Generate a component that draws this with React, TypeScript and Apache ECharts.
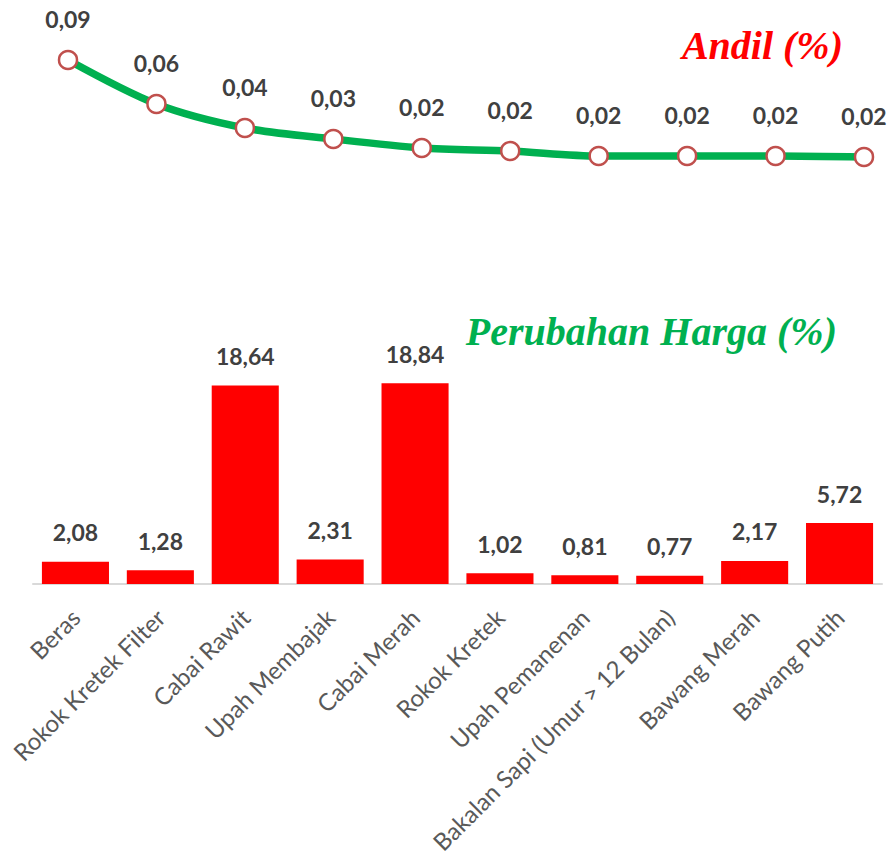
import React, { useEffect, useRef } from "react";
import * as echarts from "echarts";

const categories = [
  "Beras",
  "Rokok Kretek Filter",
  "Cabai Rawit",
  "Upah Membajak",
  "Cabai Merah",
  "Rokok Kretek",
  "Upah Pemanenan",
  "Bakalan Sapi (Umur > 12 Bulan)",
  "Bawang Merah",
  "Bawang Putih",
];
const andil = [0.0936, 0.0584, 0.0392, 0.0304, 0.0232, 0.0208, 0.0168, 0.0168, 0.0168, 0.016];
const perubahanHarga = [2.08, 1.28, 18.64, 2.31, 18.84, 1.02, 0.81, 0.77, 2.17, 5.72];
const titleAndil = "Andil (%)";
const titleHarga = "Perubahan Harga (%)";

const fmt = (v: number) => v.toFixed(2).replace(".", ",");

export default function App() {
  const ref = useRef<HTMLDivElement>(null);
  useEffect(() => {
    if (!ref.current) return;
    const chart = echarts.init(ref.current, null, { renderer: "svg" });
    const valueLabel = {
      show: true,
      position: "top",
      fontFamily: "Lato",
      fontWeight: "bold",
      fontSize: 23,
      color: "#404040",
      formatter: (p: any) => fmt(p.value),
    };
    chart.setOption({
      animation: false,
      backgroundColor: "#ffffff",
      grid: [
        { left: 68, right: 28, top: 52, height: 125, containLabel: false, outerBoundsMode: "none" },
        { left: 33, right: 10, top: 371, height: 213, containLabel: false, outerBoundsMode: "none" },
      ],
      xAxis: [
        { type: "category", gridIndex: 0, data: categories, boundaryGap: false, show: false },
        {
          type: "category",
          gridIndex: 1,
          data: categories,
          axisLine: { lineStyle: { color: "#D9D9D9", width: 2 } },
          axisTick: { show: false },
          axisLabel: {
            rotate: 45,
            interval: 0,
            margin: 29,
            color: "#595959",
            fontFamily: "Lato",
            fontSize: 24,
          },
        },
      ],
      yAxis: [
        { type: "value", gridIndex: 0, min: 0, max: 0.1, show: false },
        { type: "value", gridIndex: 1, min: 0, max: 20, show: false },
      ],
      series: [
        {
          type: "line",
          xAxisIndex: 0,
          yAxisIndex: 0,
          data: andil,
          smooth: 0.3,
          lineStyle: { color: "#00B050", width: 7.5 },
          symbol: "circle",
          symbolSize: 18,
          itemStyle: { color: "#ffffff", borderColor: "#C0504D", borderWidth: 2.5 },
          label: { ...valueLabel, distance: 19 },
        },
        {
          type: "bar",
          xAxisIndex: 1,
          yAxisIndex: 1,
          data: perubahanHarga,
          barCategoryGap: "21%",
          itemStyle: { color: "#FF0000" },
          label: { ...valueLabel, distance: 18 },
        },
      ],
      graphic: [
        {
          type: "text",
          x: 843,
          y: 45,
          style: {
            text: titleAndil,
            fill: "#FF0000",
            fontFamily: "Liberation Serif",
            fontStyle: "italic",
            fontWeight: "bold",
            fontSize: 40,
            textAlign: "right",
            textVerticalAlign: "middle",
            align: "right",
            verticalAlign: "middle",
          },
        },
        {
          type: "text",
          x: 837,
          y: 331,
          style: {
            text: titleHarga,
            fill: "#00B050",
            fontFamily: "Liberation Serif",
            fontStyle: "italic",
            fontWeight: "bold",
            fontSize: 40,
            textAlign: "right",
            textVerticalAlign: "middle",
            align: "right",
            verticalAlign: "middle",
          },
        },
      ],
    });
    return () => chart.dispose();
  }, []);
  return (
    <div
      ref={ref}
      style={{ position: "fixed", left: 0, top: 0, width: 892, height: 858 }}
    />
  );
}
